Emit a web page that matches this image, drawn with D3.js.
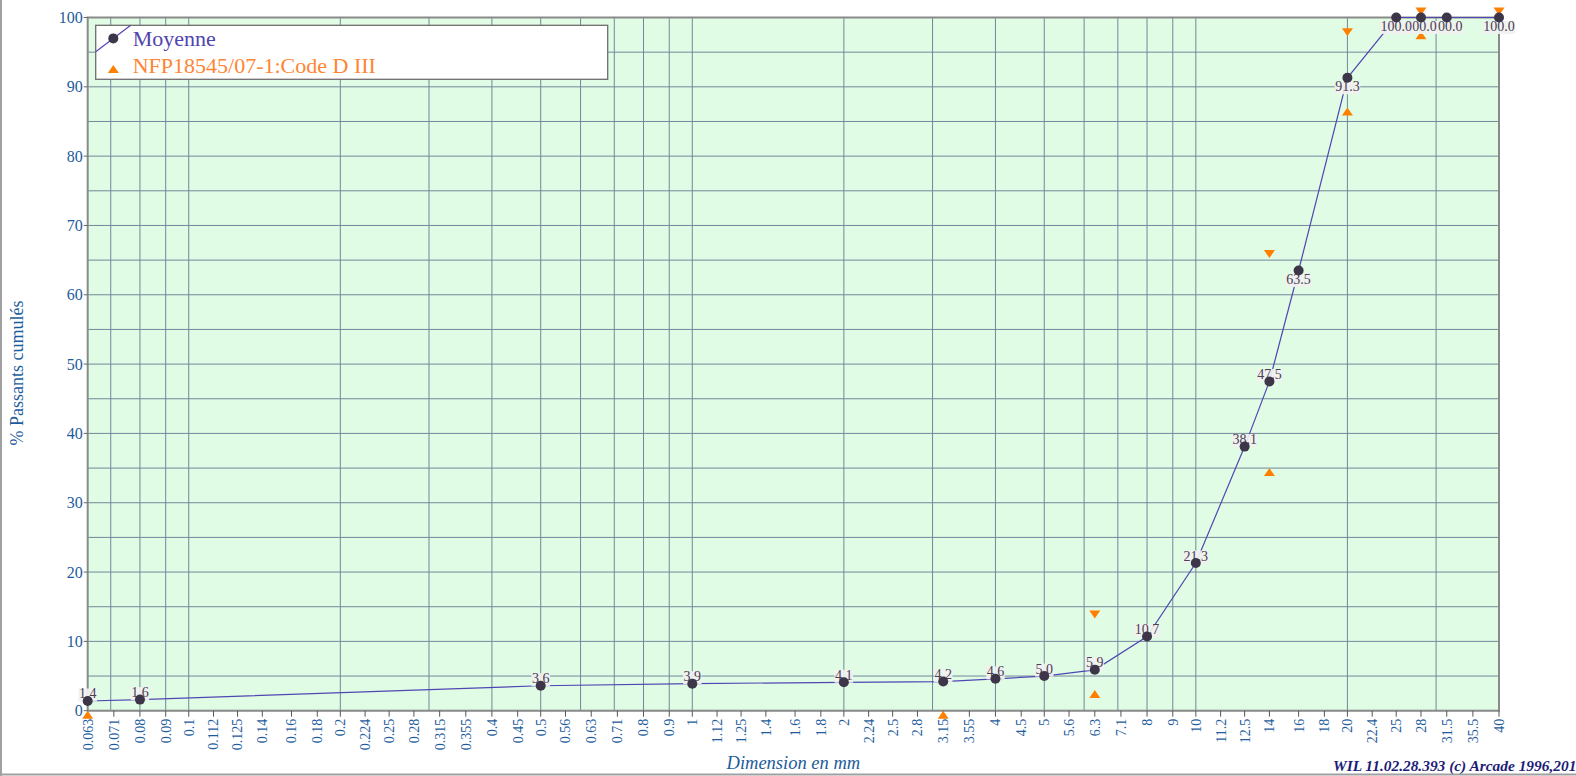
<!DOCTYPE html>
<html><head><meta charset="utf-8">
<script src="https://cdn.jsdelivr.net/npm/d3@7"></script>
<style>html,body{margin:0;padding:0;background:#fff;overflow:hidden}svg{display:block}</style>
</head><body>
<script>
// ---- data ----
const tickLabels = ["0.063","0.071","0.08","0.09","0.1","0.112","0.125","0.14","0.16","0.18","0.2","0.224","0.25","0.28","0.315","0.355","0.4","0.45","0.5","0.56","0.63","0.71","0.8","0.9","1","1.12","1.25","1.4","1.6","1.8","2","2.24","2.5","2.8","3.15","3.55","4","4.5","5","5.6","6.3","7.1","8","9","10","11.2","12.5","14","16","18","20","22.4","25","28","31.5","35.5","40"];
const sieves  = [0.063,0.08,0.5,1,2,3.15,4,5,6.3,8,10,12.5,14,16,20,25,28,31.5,40];
const passing = [1.4,1.6,3.6,3.9,4.1,4.2,4.6,5.0,5.9,10.7,21.3,38.1,47.5,63.5,91.3,100,100,100,100];
const upperSizes = [6.3,14,20,28,40];
const upperValues = [13,65,97,100,100];
const lowerSizes = [0.063,3.15,6.3,14,20,28];
const lowerValues = [0,0,3,35,87,98];
const yTicks = [0,10,20,30,40,50,60,70,80,90,100];
const seriesName = "Moyenne";
const specName = "NFP18545/07-1:Code D III";

// ---- layout ----
const W = 1576, H = 776;
const L = 87.7, R = 1499, T = 17.5, B = 710.7;
const blue = "#1d5c9c", lineCol = "#5046b4", ptCol = "#3d3548", orange = "#ff8000";
const serif = "'Liberation Serif','Times New Roman',serif";

const svg = d3.select("body").append("svg").attr("width", W).attr("height", H)
  .style("font-family", serif);

const x = d3.scaleLog().domain([0.063, 40]).range([L, R]);
const y = d3.scaleLinear().domain([0, 100]).range([B, T]);

// page frame
svg.append("line").attr("x1",1).attr("x2",1).attr("y1",0).attr("y2",H).attr("stroke","#a0a0a0").attr("stroke-width",2);
svg.append("line").attr("x1",0).attr("x2",W).attr("y1",774.5).attr("y2",774.5).attr("stroke","#a0a0a0").attr("stroke-width",2);

// plot background
svg.append("rect").attr("x",L).attr("y",T).attr("width",R-L).attr("height",B-T).attr("fill","#e0fce4");

// grid
const g = svg.append("g");
g.selectAll(".gx").data(x.ticks()).join("line")
  .attr("x1",d=>x(d)).attr("x2",d=>x(d)).attr("y1",T).attr("y2",B)
  .attr("stroke","#72879c").attr("stroke-width",1);
g.selectAll(".gy").data(y.ticks(20)).join("line")
  .attr("x1",L).attr("x2",R).attr("y1",d=>y(d)).attr("y2",d=>y(d))
  .attr("stroke","#72879c").attr("stroke-width",1);

// border
svg.append("rect").attr("x",L).attr("y",T).attr("width",R-L).attr("height",B-T)
  .attr("fill","none").attr("stroke","#8a8a8a").attr("stroke-width",2);

// x axis ticks + labels
const xa = svg.append("g");
xa.selectAll("line").data(tickLabels).join("line")
  .attr("x1",d=>x(+d)).attr("x2",d=>x(+d)).attr("y1",B).attr("y2",B+6)
  .attr("stroke","#555").attr("stroke-width",1);
xa.selectAll("text").data(tickLabels).join("text")
  .attr("transform",d=>`translate(${x(+d)},${B+8}) rotate(-90)`)
  .attr("text-anchor","end").attr("dy","0.35em")
  .attr("fill",blue).style("font-size","14px").text(d=>d);

// y axis ticks + labels
const ya = svg.append("g");
ya.selectAll("line").data(yTicks).join("line")
  .attr("x1",L-4).attr("x2",L).attr("y1",d=>y(d)).attr("y2",d=>y(d))
  .attr("stroke","#666").attr("stroke-width",1);
ya.selectAll("text").data(yTicks).join("text")
  .attr("x",L-5).attr("y",d=>y(d)).attr("dy","0.35em").attr("text-anchor","end")
  .attr("fill",blue).style("font-size","16px").text(d=>d);

// axis titles
svg.append("text").attr("transform",`translate(23,373) rotate(-90)`)
  .attr("text-anchor","middle").attr("fill",blue).style("font-size","18px").text("% Passants cumulés");
svg.append("text").attr("x",(L+R)/2).attr("y",769).attr("text-anchor","middle")
  .attr("fill",blue).style("font-size","18.5px").style("font-style","italic").text("Dimension en mm");
svg.append("text").attr("x",1333).attr("y",771)
  .attr("fill","#1c1c78").style("font-size","15.4px").style("font-style","italic").style("font-weight","bold")
  .text("WIL 11.02.28.393 (c) Arcade 1996,201");

// spec triangles
const triW = 11, triH = 8;
const up = (cx, cy) => `M${cx},${cy} L${cx+triW/2},${cy+triH} L${cx-triW/2},${cy+triH} Z`;
const down = (cx, cy) => `M${cx},${cy} L${cx+triW/2},${cy-triH} L${cx-triW/2},${cy-triH} Z`;
svg.append("g").selectAll("path").data(upperSizes.map((s,i)=>[s,upperValues[i]])).join("path")
  .attr("d",d=>down(x(d[0]), y(d[1]) - 2)).attr("fill",orange);
svg.append("g").selectAll("path").data(lowerSizes.map((s,i)=>[s,lowerValues[i]])).join("path")
  .attr("d",d=>up(x(d[0]), y(d[1]))).attr("fill",orange);

// series line
const pts = sieves.map((s,i)=>[s,passing[i]]);
svg.append("path").datum(pts)
  .attr("d", d3.line().x(d=>x(d[0])).y(d=>y(d[1])))
  .attr("fill","none").attr("stroke",lineCol).attr("stroke-width",1.2);

// value labels (drawn last-to-first so earlier labels sit on top)
const fmt = d3.format(".1f");
const lg = svg.append("g").style("font-size","14px");
pts.slice().reverse().forEach(d=>{
  const cx = x(d[0]), cy = y(d[1]);
  const below = d[1] > 60;
  const gg = lg.append("g");
  const r = gg.append("rect").attr("fill","#f1f1f1").attr("fill-opacity",0.92);
  const t = gg.append("text").attr("x",cx).attr("y", below ? cy+13.5 : cy-2.5)
    .attr("text-anchor","middle").attr("fill","#4a4050").text(fmt(d[1]));
  const bb = t.node().getBBox();
  r.attr("x",bb.x-0.5).attr("y",bb.y+2).attr("width",bb.width+1).attr("height",bb.height-2);
});

// points on top
svg.append("g").selectAll("circle").data(pts).join("circle")
  .attr("cx",d=>x(d[0])).attr("cy",d=>y(d[1])).attr("r",5).attr("fill",ptCol);

// legend
const leg = svg.append("g");
leg.append("rect").attr("x",95.7).attr("y",25.3).attr("width",512).attr("height",54)
  .attr("fill","#fff").attr("stroke","#6e6e6e").attr("stroke-width",1.3);
leg.append("line").attr("x1",95.7).attr("y1",51.7).attr("x2",130.7).attr("y2",25.3)
  .attr("stroke",lineCol).attr("stroke-width",1.2);
leg.append("circle").attr("cx",113.3).attr("cy",38.4).attr("r",5).attr("fill",ptCol);
leg.append("text").attr("x",132.7).attr("y",45.5).attr("fill","#4f45ad").style("font-size","22px").text(seriesName);
leg.append("path").attr("d",up(113.3,65)).attr("fill",orange);
leg.append("text").attr("x",132.7).attr("y",72.5).attr("fill","#ff8533").style("font-size","22px").text(specName);
</script>
</body></html>
